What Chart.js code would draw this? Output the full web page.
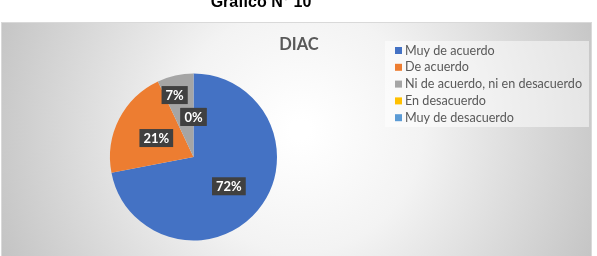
<!DOCTYPE html>
<html><head><meta charset="utf-8">
<script src="https://cdn.jsdelivr.net/npm/chart.js@4"></script>
<style>html,body{margin:0;padding:0;background:#fff}#wrap{width:597px;height:256px}</style>
</head><body><div id="wrap"><canvas id="c" width="597" height="256"></canvas></div>
<script>
const pageTitle = "Grafico N° 10";
const chartTitle = "DIAC";
const categories = ["Muy de acuerdo", "De acuerdo", "Ni de acuerdo, ni en desacuerdo", "En desacuerdo", "Muy de desacuerdo"];
const values = [72, 21, 7, 0, 0];
const colors = ["#4472C4", "#ED7D31", "#A5A5A5", "#FFC000", "#5B9BD5"];

const decor = {
  id: 'decor',
  beforeDraw(chart) {
    const ctx = chart.ctx;
    ctx.save();
    ctx.fillStyle = '#fff';
    ctx.fillRect(0, 0, chart.width, chart.height);
    const g = ctx.createRadialGradient(300, 130, 10, 300, 130, 330);
    g.addColorStop(0, '#ffffff');
    g.addColorStop(0.35, '#f3f3f3');
    g.addColorStop(1, '#c2c2c2');
    ctx.fillStyle = g;
    ctx.fillRect(1, 22, 591, 240);
    ctx.strokeStyle = '#d9d9d9';
    ctx.lineWidth = 1;
    ctx.strokeRect(1.5, 22.5, 590, 240);
    // page title (cut off at top)
    ctx.fillStyle = '#000';
    ctx.font = 'bold 16px "Liberation Sans", Arial, sans-serif';
    ctx.textAlign = 'center';
    ctx.textBaseline = 'alphabetic';
    ctx.fillText(pageTitle, 261, 7);
    // chart title
    ctx.fillStyle = '#595959';
    ctx.font = 'bold 16.5px Lato, "Noto Sans", sans-serif';
    ctx.textBaseline = 'middle';
    ctx.fillText(chartTitle, 299, 45);
    // legend box
    ctx.fillStyle = 'rgba(255,255,255,0.5)';
    ctx.fillRect(385, 41, 204, 86);
    ctx.textAlign = 'left';
    ctx.font = '12.6px Lato, "Noto Sans", sans-serif';
    chart.data.labels.forEach((lab, i) => {
      const y = 50.5 + i * 16.8;
      ctx.fillStyle = chart.data.datasets[0].backgroundColor[i];
      ctx.fillRect(395, y - 3.5, 7, 7);
      ctx.fillStyle = '#595959';
      ctx.fillText(lab, 405, y);
    });
    ctx.restore();
  },
  afterDatasetsDraw(chart) {
    const ctx = chart.ctx;
    const meta = chart.getDatasetMeta(0);
    const ds = chart.data.datasets[0];
    const fr = [0.55, 0.5, 0.76, 0.48, 0.48];
    ctx.save();
    ctx.font = 'bold 13px Lato, "Noto Sans", sans-serif';
    ctx.textAlign = 'center';
    ctx.textBaseline = 'middle';
    meta.data.forEach((arc, i) => {
      const p = arc.getProps(['x', 'y', 'startAngle', 'endAngle', 'outerRadius'], true);
      const mid = (p.startAngle + p.endAngle) / 2;
      const r = p.outerRadius * fr[i];
      let x = p.x + Math.cos(mid) * r;
      let y = p.y + Math.sin(mid) * r;
      if (i === 2) x -= 5;
      const txt = ds.data[i] + '%';
      const w = ctx.measureText(txt).width + 8;
      const h = 18;
      ctx.fillStyle = '#404040';
      ctx.fillRect(x - w / 2, y - h / 2, w, h);
      ctx.fillStyle = '#fff';
      ctx.fillText(txt, x, y + 0.5);
    });
    ctx.restore();
  }
};

new Chart(document.getElementById('c'), {
  type: 'pie',
  data: {
    labels: categories,
    datasets: [{ data: values, backgroundColor: colors, borderWidth: 0 }]
  },
  options: {
    responsive: false,
    animation: false,
    layout: { padding: { top: 73, bottom: 15, left: 110, right: 320 } },
    plugins: { legend: { display: false }, tooltip: { enabled: false }, title: { display: false } }
  },
  plugins: [decor]
});
</script>
</body></html>
